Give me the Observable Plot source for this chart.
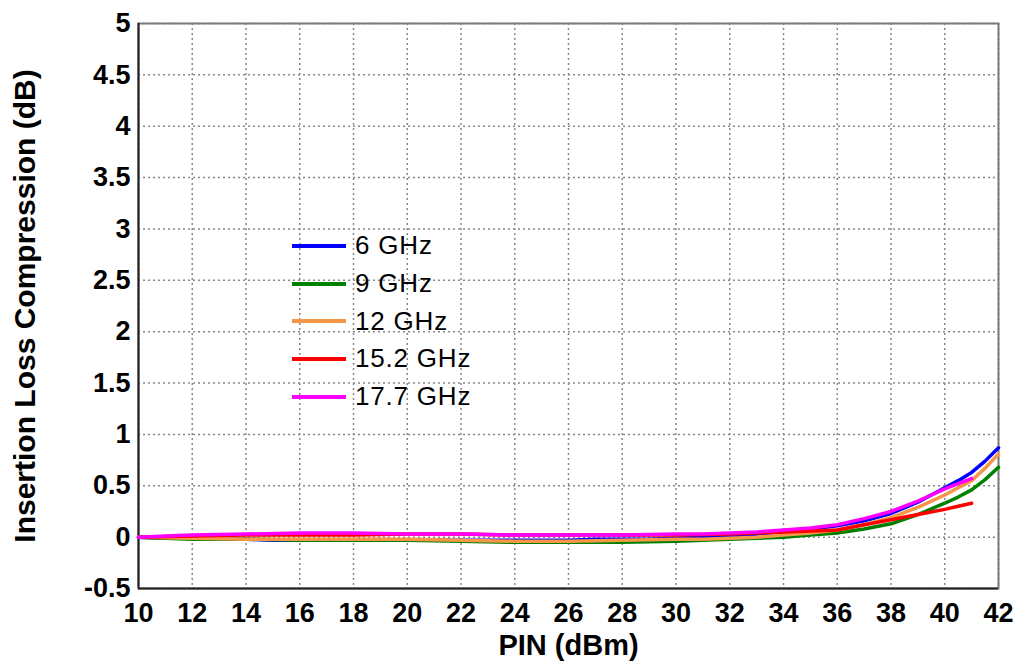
<!DOCTYPE html>
<html>
<head>
<meta charset="utf-8">
<script src="https://cdn.jsdelivr.net/npm/d3@7"></script>
<script src="https://cdn.jsdelivr.net/npm/@observablehq/plot@0.6"></script>
<style>
  html, body { margin: 0; padding: 0; background: #fff; }
  body { width: 1018px; height: 666px; overflow: hidden; font-family: Arial, "Liberation Sans", sans-serif; }
  #wrap { position: relative; width: 1018px; height: 666px; }
  #legend { position: absolute; left: 292px; top: 227px; }
  .item { display: flex; align-items: center; height: 37.7px; }
  .sw { width: 54px; height: 4px; margin-right: 9px; }
  .lab { font-size: 26px; color: #000; letter-spacing: 0.8px; }
</style>
</head>
<body>
<div id="wrap"></div>
<script>
// Series (x = PIN in dBm, y = insertion loss compression in dB)
const seriesNames = ["6 GHz", "9 GHz", "12 GHz", "15.2 GHz", "17.7 GHz"];
const seriesColors = ["#0000ff", "#008000", "#f79646", "#ff0000", "#ff00ff"];

const pin6 = [10, 11, 12, 13, 14, 15, 16, 17, 18, 19, 20, 21, 22, 23, 24, 25, 26, 27, 28, 29, 30, 31, 32, 33, 34, 35, 36, 37, 38, 39, 40, 40.5, 41, 41.5, 42];
const il6  = [0, -0.01, -0.01, -0.02, -0.02, -0.03, -0.03, -0.03, -0.03, -0.03, -0.03, -0.03, -0.03, -0.03, -0.03, -0.03, -0.03, -0.02, -0.02, -0.02, -0.01, 0, 0.01, 0.03, 0.05, 0.08, 0.11, 0.16, 0.23, 0.34, 0.48, 0.55, 0.63, 0.74, 0.87];

const pin9 = [10, 11, 12, 14, 16, 18, 20, 22, 24, 26, 28, 30, 31, 32, 33, 34, 35, 36, 37, 38, 39, 40, 40.5, 41, 41.5, 42];
const il9  = [0, -0.01, -0.02, -0.02, -0.03, -0.03, -0.03, -0.04, -0.05, -0.05, -0.05, -0.04, -0.03, -0.02, -0.01, 0, 0.02, 0.04, 0.08, 0.13, 0.22, 0.33, 0.39, 0.46, 0.56, 0.68];

const pin12 = [10, 12, 14, 16, 18, 20, 22, 24, 26, 28, 30, 31, 32, 33, 34, 35, 36, 37, 38, 39, 40, 40.5, 41, 41.5, 42];
const il12  = [0, -0.01, -0.02, -0.02, -0.02, -0.02, -0.03, -0.04, -0.04, -0.03, -0.02, -0.02, -0.01, 0, 0.02, 0.04, 0.07, 0.12, 0.19, 0.29, 0.41, 0.48, 0.55, 0.67, 0.81];

const pin15 = [10, 12, 14, 16, 18, 20, 22, 24, 26, 28, 30, 32, 33, 34, 35, 36, 37, 38, 39, 40, 40.5, 41];
const il15  = [0, 0.01, 0.02, 0.02, 0.02, 0.03, 0.03, 0.02, 0.02, 0.02, 0.02, 0.03, 0.04, 0.05, 0.06, 0.07, 0.12, 0.17, 0.22, 0.27, 0.30, 0.33];

const pin17 = [10, 11, 12, 14, 16, 18, 20, 22, 24, 26, 28, 30, 31, 32, 33, 34, 35, 36, 37, 38, 39, 40, 40.5, 41];
const il17  = [0, 0.01, 0.02, 0.03, 0.04, 0.04, 0.03, 0.03, 0.02, 0.02, 0.02, 0.03, 0.03, 0.04, 0.05, 0.07, 0.09, 0.12, 0.18, 0.25, 0.35, 0.47, 0.52, 0.57];

const xTicks = [10, 12, 14, 16, 18, 20, 22, 24, 26, 28, 30, 32, 34, 36, 38, 40, 42];
const yTicks = [-0.5, 0, 0.5, 1, 1.5, 2, 2.5, 3, 3.5, 4, 4.5, 5];

const xs = [pin6, pin9, pin12, pin15, pin17];
const ys = [il6, il9, il12, il15, il17];
const rows = [];
seriesNames.forEach((name, i) => {
  xs[i].forEach((x, j) => rows.push({series: name, pin: x, il: ys[i][j]}));
});

const font = 'Arial, "Liberation Sans", sans-serif';

const chart = Plot.plot({
  width: 1018,
  height: 666,
  marginLeft: 138,
  marginRight: 20,
  marginTop: 23,
  marginBottom: 78,
  style: {fontFamily: font, background: "#fff", color: "#000"},
  x: {domain: [10, 42]},
  y: {domain: [-0.5, 5]},
  color: {domain: seriesNames, range: seriesColors},
  marks: [
    Plot.gridX(xTicks, {stroke: "#888", strokeOpacity: 1, strokeWidth: 1.5, strokeDasharray: "2,3"}),
    Plot.gridY(yTicks, {stroke: "#888", strokeOpacity: 1, strokeWidth: 1.5, strokeDasharray: "2,3"}),
    Plot.frame({stroke: "#7a7a7a", strokeWidth: 2}),
    Plot.ruleX([10], {stroke: "#222", strokeWidth: 2}),
    Plot.ruleY([-0.5], {stroke: "#222", strokeWidth: 2}),
    Plot.line(rows, {x: "pin", y: "il", z: "series", stroke: "series", strokeWidth: 3.5, curve: "linear"}),
    Plot.axisX(xTicks, {tickSize: 0, tickPadding: 14, fontSize: 27, fontWeight: "bold", label: null, tickFormat: d => String(d)}),
    Plot.axisY(yTicks, {tickSize: 0, tickPadding: 8, fontSize: 27, fontWeight: "bold", label: null, tickFormat: d => String(d)}),
    Plot.text(["PIN (dBm)"], {frameAnchor: "bottom", dy: 66, fontSize: 29, fontWeight: "bold", fill: "#000", textAnchor: "middle"}),
    Plot.text(["Insertion Loss Compression (dB)"], {frameAnchor: "left", dx: -113, rotate: -90, fontSize: 30, fontWeight: "bold", fill: "#000", textAnchor: "middle"})
  ]
});

const wrap = document.getElementById("wrap");
wrap.appendChild(chart);

const legend = document.createElement("div");
legend.id = "legend";
seriesNames.forEach((name, i) => {
  const item = document.createElement("div");
  item.className = "item";
  const sw = document.createElement("div");
  sw.className = "sw";
  sw.style.background = seriesColors[i];
  const lab = document.createElement("span");
  lab.className = "lab";
  lab.textContent = name;
  item.appendChild(sw);
  item.appendChild(lab);
  legend.appendChild(item);
});
wrap.appendChild(legend);
</script>
</body>
</html>
